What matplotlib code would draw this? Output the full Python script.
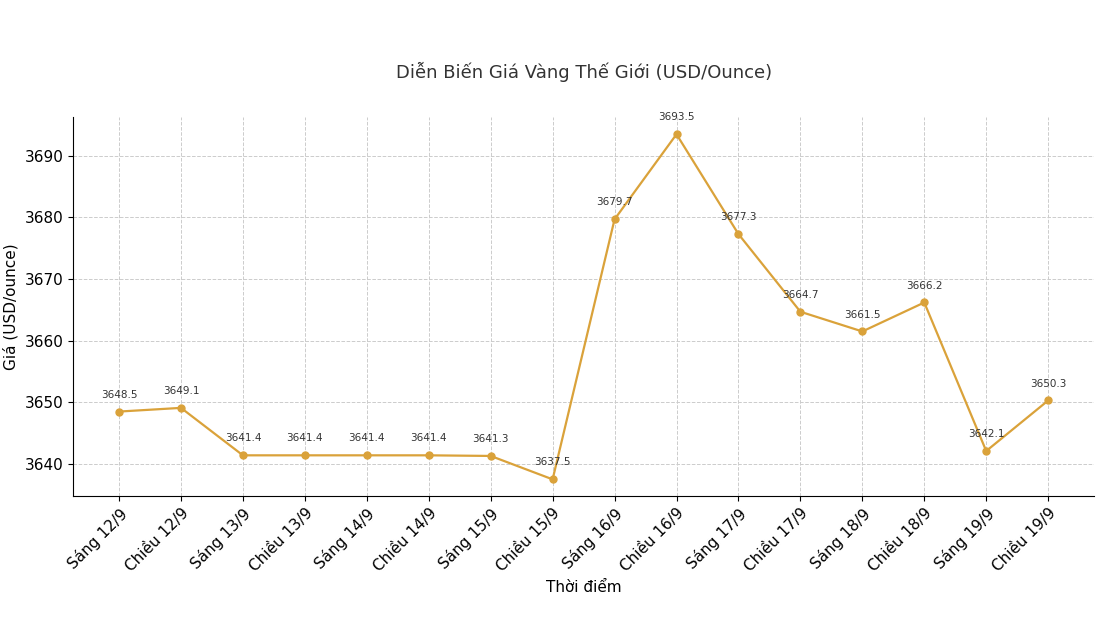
import matplotlib
matplotlib.use("Agg")
import matplotlib.pyplot as plt

labels = ["Sáng 12/9","Chiều 12/9","Sáng 13/9","Chiều 13/9","Sáng 14/9","Chiều 14/9",
          "Sáng 15/9","Chiều 15/9","Sáng 16/9","Chiều 16/9","Sáng 17/9","Chiều 17/9",
          "Sáng 18/9","Chiều 18/9","Sáng 19/9","Chiều 19/9"]
prices = [3648.5,3649.1,3641.4,3641.4,3641.4,3641.4,3641.3,3637.5,3679.7,3693.5,
          3677.3,3664.7,3661.5,3666.2,3642.1,3650.3]

fig = plt.figure(figsize=(10.98,6.42), dpi=100)
ax = fig.add_axes([73/1098, 1-496/642, (1094-73)/1098, (496-117)/642])
x = list(range(len(labels)))
ax.plot(x, prices, color="#DAA23A", marker="o", markersize=5, linewidth=1.6)
for xi, p in zip(x, prices):
    ax.annotate(f"{p}", (xi, p), xytext=(0, 10), textcoords="offset points",
                ha="center", fontsize=7.5, color="#333333")
ax.set_xlim(-0.743, 15.74)
ax.set_ylim(3634.8, 3696.3)
ax.set_xticks(x)
ax.set_xticklabels(labels, rotation=45, ha="right", rotation_mode="anchor", fontsize=11)
ax.tick_params(axis="y", labelsize=11)
ax.grid(True, linestyle="--", color="#cccccc", linewidth=0.7)
ax.spines["top"].set_visible(False)
ax.spines["right"].set_visible(False)
ax.set_xlabel("Thời điểm", fontsize=11)
ax.set_ylabel("Giá (USD/ounce)", fontsize=11)
fig.text(584/1098, 1-72/642, "Diễn Biến Giá Vàng Thế Giới (USD/Ounce)", ha="center",
         va="center", fontsize=13, color="#333333")
fig.savefig("out.png", dpi=100)
